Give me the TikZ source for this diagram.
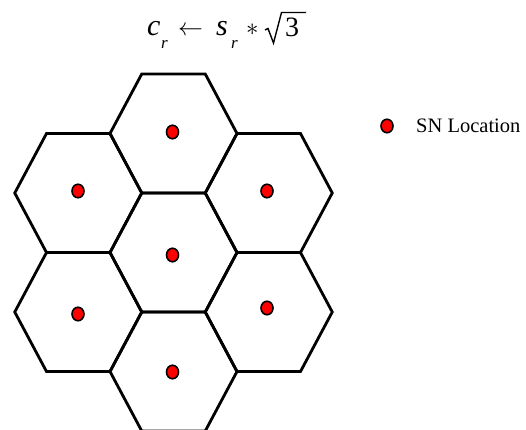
\documentclass[tikz,border=0pt]{standalone}
\usepackage{fontspec}
\setmainfont{Liberation Serif}
\usetikzlibrary{shapes.geometric}
\begin{document}
\begin{tikzpicture}[x=1pt,y=-1pt,
  hexcell/.style={draw=black,line width=2.8pt,line join=miter},
  sndot/.style={ellipse,draw=black,fill=red,line width=1.6pt,minimum width=12pt,minimum height=13.5pt,inner sep=0pt},
  ftxt/.style={anchor=base west,inner sep=0pt,font=\fontsize{30}{30}\selectfont\itshape},
  fsub/.style={anchor=base west,inner sep=0pt,font=\fontsize{17}{17}\selectfont\itshape}]
\useasboundingbox (0,0) rectangle (526,429);
% hexagonal cells
\foreach \cx/\cy in {173.5/133.5, 78.25/193, 268.75/193, 173.5/252.5, 78.25/312, 268.75/312, 173.5/371.5}{
  \draw[hexcell] (\cx-63.5,\cy) -- (\cx-31.75,\cy-59.5) -- (\cx+31.75,\cy-59.5)
     -- (\cx+63.5,\cy) -- (\cx+31.75,\cy+59.5) -- (\cx-31.75,\cy+59.5) -- cycle;
}
% sensor nodes
\node[sndot] (n1) at (172.5,132) {};
\node[sndot] (n2) at (78,191) {};
\node[sndot] (n3) at (267,191) {};
\node[sndot] (n4) at (172.5,255) {};
\node[sndot] (n5) at (78,314) {};
\node[sndot] (n6) at (267,308) {};
\node[sndot] (n7) at (172.5,372) {};
% legend
\node[sndot] (lg) at (387,126) {};
\node[anchor=west,inner sep=0pt,font=\fontsize{20.5}{20.5}\selectfont] (lgt) at (416,126) {SN Location};
% formula
\node[ftxt] (fc) at (147,35) {c};
\node[fsub] (fr1) at (161,48) {r};
\node[anchor=base west,inner sep=0pt,font=\fontsize{25}{25}\selectfont] (farr) at (178,35) {$\leftarrow$};
\node[ftxt] (fs) at (216,35) {s};
\node[fsub] (fr2) at (231,48) {r};
\node[anchor=base west,inner sep=0pt,font=\fontsize{26}{26}\selectfont] (fast) at (246,35) {$*$};
\node[anchor=base west,inner sep=0pt,font=\fontsize{28}{28}\selectfont] (f3) at (285,36) {3};
\coordinate (rad0) at (265,30);
\coordinate (rad1) at (268,28.5);
\coordinate (rad2) at (273.5,43);
\coordinate (rad3) at (281.5,12.5);
\coordinate (rad4) at (306,12.5);
\draw[line width=1.4pt,line join=miter] (rad0) -- (rad1) -- (rad2) -- (rad3) -- (rad4);
\end{tikzpicture}
\end{document}
